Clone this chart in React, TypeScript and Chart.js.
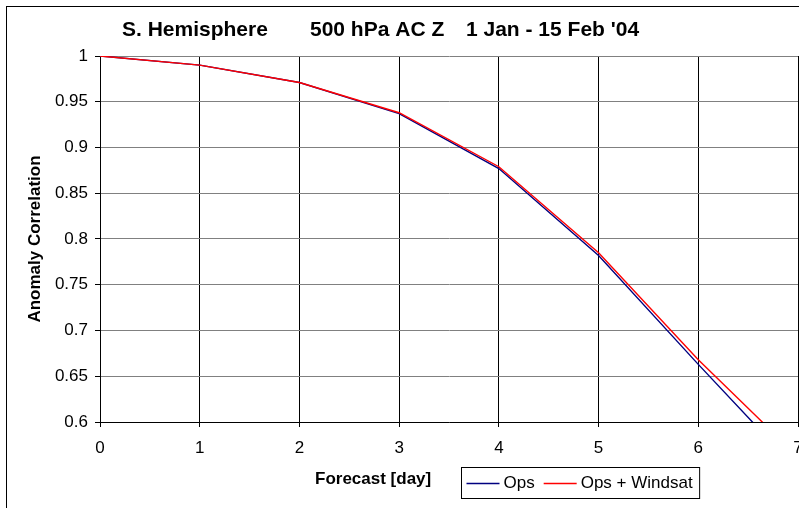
import React, { useEffect, useRef } from "react";
import { Chart, registerables } from "chart.js";

Chart.register(...registerables);

const DAYS = [0, 1, 2, 3, 4, 5, 6, 7];
const OPS = [1.0, 0.99, 0.971, 0.937, 0.877, 0.782, 0.663, 0.547];
const OPS_WINDSAT = [1.0, 0.99, 0.971, 0.938, 0.879, 0.785, 0.668, 0.562];
const SERIES_LABELS = ["Ops", "Ops + Windsat"];
const SERIES_COLORS = ["#000080", "#FF0000"];
const TITLE_PARTS = ["S. Hemisphere", "500 hPa AC Z", "1 Jan - 15 Feb '04"];
const TITLE_X = [115, 303, 459];
const X_TITLE = "Forecast [day]";
const Y_TITLE = "Anomaly Correlation";

const FONT = '"Liberation Sans", Arial, sans-serif';

const decorPlugin = {
  id: "decor",
  afterDraw(chart: any) {
    const ctx = chart.ctx as CanvasRenderingContext2D;
    ctx.save();
    ctx.fillStyle = "#000";
    ctx.textBaseline = "alphabetic";
    ctx.textAlign = "left";
    // title
    ctx.font = `bold 21px ${FONT}`;
    TITLE_PARTS.forEach((t, i) => ctx.fillText(t, TITLE_X[i], 29));
    // x axis title
    ctx.font = `bold 17px ${FONT}`;
    ctx.fillText(X_TITLE, 308, 477);
    // legend
    ctx.font = `17px ${FONT}`;
    const boxLeft = 454.5;
    const boxTop = 460.5;
    const boxH = 31;
    const lineY = 476.5;
    let x = boxLeft + 5;
    chart.data.datasets.forEach((ds: any) => {
      ctx.strokeStyle = ds.borderColor;
      ctx.lineWidth = 1.5;
      ctx.beginPath();
      ctx.moveTo(x, lineY);
      ctx.lineTo(x + 33, lineY);
      ctx.stroke();
      ctx.fillStyle = "#000";
      ctx.fillText(ds.label, x + 37, 481);
      x = x + 37 + ctx.measureText(ds.label).width + 9;
    });
    const boxRight = x - 9 + 7;
    ctx.strokeStyle = "#000";
    ctx.lineWidth = 1;
    ctx.strokeRect(boxLeft, boxTop, boxRight - boxLeft, boxH);
    ctx.restore();
  },
};

export default function App() {
  const ref = useRef<HTMLCanvasElement | null>(null);
  useEffect(() => {
    if (!ref.current) return;
    const chart = new Chart(ref.current, {
      type: "line",
      data: {
        datasets: [
          {
            label: SERIES_LABELS[0],
            data: DAYS.map((d, i) => ({ x: d, y: OPS[i] })),
            borderColor: SERIES_COLORS[0],
            backgroundColor: SERIES_COLORS[0],
            borderWidth: 1.4,
            pointRadius: 0,
            tension: 0,
            order: 2,
          },
          {
            label: SERIES_LABELS[1],
            data: DAYS.map((d, i) => ({ x: d, y: OPS_WINDSAT[i] })),
            borderColor: SERIES_COLORS[1],
            backgroundColor: SERIES_COLORS[1],
            borderWidth: 1.4,
            pointRadius: 0,
            tension: 0,
            order: 1,
          },
        ],
      },
      options: {
        animation: false,
        responsive: false,
        devicePixelRatio: 1,
        layout: { padding: { top: 49, right: 20, bottom: 65, left: 0 } },
        plugins: {
          legend: { display: false },
          title: { display: false },
          tooltip: { enabled: false },
        },
        scales: {
          x: {
            type: "linear",
            min: 0,
            max: 7,
            ticks: {
              stepSize: 1,
              color: "#000",
              padding: 11,
              font: { family: FONT, size: 17 },
            },
            grid: { color: "#000", tickColor: "#000", tickLength: 5, lineWidth: 1 },
            border: { color: "#000", width: 1 },
            afterFit: (scale: any) => {
              scale.height = 40;
            },
          },
          y: {
            type: "linear",
            min: 0.6,
            max: 1,
            ticks: {
              stepSize: 0.05,
              color: "#000",
              padding: 7,
              font: { family: FONT, size: 17 },
              callback: (v: any) => String(+Number(v).toFixed(2)),
            },
            grid: { color: "#808080", tickColor: "#000", tickLength: 5, lineWidth: 1 },
            border: { color: "#000", width: 1 },
            title: {
              display: true,
              text: Y_TITLE,
              color: "#000",
              font: { family: FONT, size: 17, weight: "bold" },
              padding: { top: 18, bottom: 0 },
            },
            afterFit: (scale: any) => {
              scale.width = 93;
            },
          },
        },
      },
      plugins: [decorPlugin],
    } as any);
    return () => chart.destroy();
  }, []);
  return (
    <div
      style={{
        position: "fixed",
        left: 0,
        top: 0,
        width: 799,
        height: 508,
        overflow: "hidden",
        background: "#fff",
      }}
    >
      <div
        style={{
          position: "absolute",
          left: 6,
          top: 6,
          borderLeft: "1px solid #000",
          borderTop: "1px solid #000",
        }}
      >
        <canvas ref={ref} width={811} height={520} style={{ display: "block", width: 811, height: 520 }} />
      </div>
    </div>
  );
}
